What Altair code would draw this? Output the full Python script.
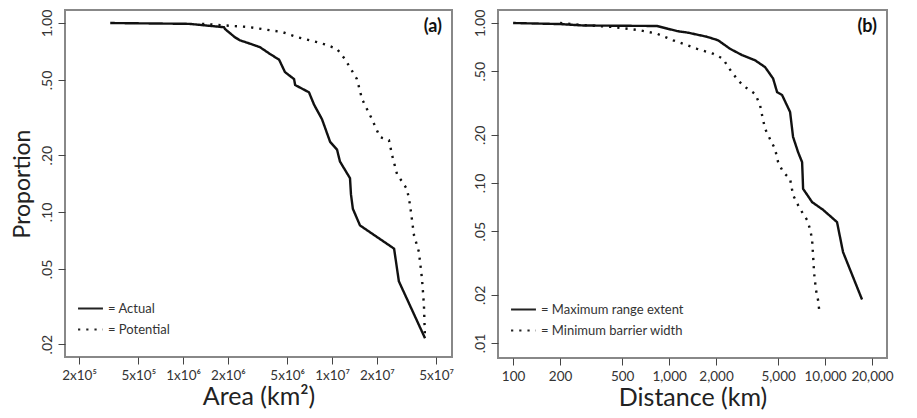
import altair as alt
import pandas as pd

# ---------------- Panel (a): Area ----------------
area_actual_x = [3.24e5, 1.10e6, 1.88e6, 1.91e6, 2.23e6, 2.41e6, 2.99e6, 3.28e6, 3.84e6, 4.41e6,
                 4.83e6, 5.56e6, 5.65e6, 7.0e6, 7.57e6, 8.56e6, 9.71e6, 1.08e7, 1.13e7, 1.32e7,
                 1.34e7, 1.38e7, 1.54e7, 2.61e7, 2.81e7, 4.21e7]
area_actual_y = [1.0, 0.99, 0.95, 0.93, 0.84, 0.81, 0.765, 0.745, 0.685, 0.64,
                 0.55, 0.505, 0.47, 0.43, 0.37, 0.31, 0.235, 0.214, 0.185, 0.151,
                 0.124, 0.104, 0.085, 0.064, 0.043, 0.0215]
area_potential_x = [1.34e6, 2.77e6, 4.62e6, 5.82e6, 7.93e6, 9.25e6, 1.08e7, 1.22e7, 1.47e7, 1.59e7,
                    1.85e7, 2.10e7, 2.41e7, 2.53e7, 2.73e7, 3.19e7, 3.34e7, 3.55e7, 3.83e7, 4.02e7,
                    4.14e7, 4.21e7]
area_potential_y = [0.99, 0.952, 0.896, 0.843, 0.793, 0.765, 0.728, 0.645, 0.505, 0.396,
                    0.311, 0.249, 0.240, 0.200, 0.159, 0.132, 0.109, 0.0754, 0.0616, 0.0442,
                    0.0322, 0.0213]
area_series = ["Actual", "Potential"]
area_ticks = [2e5, 5e5, 1e6, 2e6, 5e6, 1e7, 2e7, 5e7]
area_tick_labels = ["2x10⁵", "5x10⁵", "1x10⁶", "2x10⁶", "5x10⁶", "1x10⁷", "2x10⁷", "5x10⁷"]
area_prop_ticks = [1.0, 0.5, 0.2, 0.1, 0.05, 0.02]
area_prop_labels = ["1.00", ".50", ".20", ".10", ".05", ".02"]

# ---------------- Panel (b): Distance ----------------
dist_max_x = [100, 200, 281, 838, 985, 1125, 1324, 1752, 2061, 2460, 2937, 3557, 4125, 4643,
              4925, 5300, 5966, 6236, 6714, 7125, 7180, 7230, 8255, 9705, 11930, 13040, 17260]
dist_max_y = [1.0, 0.985, 0.965, 0.958, 0.92, 0.89, 0.87, 0.82, 0.78, 0.69, 0.63, 0.585, 0.53, 0.45,
              0.37, 0.355, 0.278, 0.194, 0.156, 0.135, 0.112, 0.092, 0.076, 0.068, 0.057, 0.037, 0.0187]
dist_min_x = [200, 225, 298, 438, 652, 838, 1061, 1511, 1914, 2219, 2389, 2769, 3069, 3557, 3830,
              3947, 4125, 4440, 4780, 5000, 5385, 5966, 6236, 6714, 7125, 7670, 8020, 8255, 8380,
              8500, 8750, 9020, 9155]
dist_min_y = [1.0, 0.99, 0.967, 0.944, 0.90, 0.857, 0.78, 0.69, 0.643, 0.598, 0.531, 0.438, 0.398,
              0.361, 0.307, 0.265, 0.218, 0.188, 0.163, 0.135, 0.117, 0.106, 0.084, 0.0728, 0.0658,
              0.0587, 0.0514, 0.0444, 0.0352, 0.0275, 0.0214, 0.0185, 0.0163]
dist_series = ["Maximum  range extent", "Minimum barrier width"]
dist_ticks = [100, 200, 500, 1000, 2000, 5000, 10000, 20000]
dist_tick_labels = ["100", "200", "500", "1,000", "2,000", "5,000", "10,000", "20,000"]
dist_prop_ticks = [1.0, 0.5, 0.2, 0.1, 0.05, 0.02, 0.01]
dist_prop_labels = ["1.00", ".50", ".20", ".10", ".05", ".02", ".01"]

FONT = "Lato"


def label_expr(values, labels):
    vals = ",".join(repr(float(v)) for v in values)
    labs = ",".join("'" + l + "'" for l in labels)
    return f"[{labs}][indexof([{vals}], datum.value)]"


df_a = pd.concat([
    pd.DataFrame({"x": area_actual_x, "y": area_actual_y, "series": area_series[0], "order": range(len(area_actual_x))}),
    pd.DataFrame({"x": area_potential_x, "y": area_potential_y, "series": area_series[1], "order": range(len(area_potential_x))}),
])
df_b = pd.concat([
    pd.DataFrame({"x": dist_max_x, "y": dist_max_y, "series": dist_series[0], "order": range(len(dist_max_x))}),
    pd.DataFrame({"x": dist_min_x, "y": dist_min_y, "series": dist_series[1], "order": range(len(dist_min_x))}),
])

DASHES = [[1, 0], [2.2, 6]]


def panel(df, series, xdom, ydom, xticks, xlabels, yticks, ylabels, xtitle, ytitle, tag, w, h):
    legend = alt.Legend(
        title=None, orient="none", legendX=12, legendY=h - 62,
        symbolType="stroke", symbolSize=620, symbolStrokeWidth=2, symbolStrokeColor="#222",
        labelFont=FONT, labelFontSize=13, labelColor="#333", labelExpr="'= ' + datum.label",
        rowPadding=-3, labelOffset=4,
    )
    yaxis_kw = dict(values=yticks, labelExpr=label_expr(yticks, ylabels), labelAngle=270,
                    labelAlign="center", labelBaseline="bottom", grid=False, domain=False,
                    tickSize=7, tickColor="#444", labelFont=FONT, labelFontSize=14, labelColor="#333",
                    labelPadding=4)
    if ytitle:
        yaxis_kw.update(title=ytitle, titleFont=FONT, titleFontSize=23,
                        titleFontWeight="normal", titleColor="#222", titlePadding=6)
    else:
        yaxis_kw.update(title=None)
    lines = alt.Chart(df).mark_line(strokeWidth=2.4, clip=True, color="#111").encode(
        x=alt.X("x:Q", scale=alt.Scale(type="log", domain=xdom, nice=False, zero=False),
                axis=alt.Axis(values=xticks, labelExpr=label_expr(xticks, xlabels), grid=False,
                              domain=False, tickSize=7, tickColor="#444", labelFont=FONT,
                              labelFontSize=13.5, labelColor="#333", labelPadding=4,
                              labelOverlap=False,
                              title=xtitle, titleFont=FONT, titleFontSize=25,
                              titleFontWeight="normal", titleColor="#222", titlePadding=3)),
        y=alt.Y("y:Q", scale=alt.Scale(type="log", domain=ydom, nice=False, zero=False),
                axis=alt.Axis(**yaxis_kw)),
        strokeDash=alt.StrokeDash("series:N", scale=alt.Scale(domain=series, range=DASHES), legend=legend),
        detail="series:N",
        order="order:Q",
    )
    tag_text = alt.Chart(pd.DataFrame({"t": [tag]})).mark_text(
        font=FONT, fontSize=18, fontWeight="bold", align="right", baseline="top", color="#111"
    ).encode(text="t:N", x=alt.value(w - 10), y=alt.value(8))
    return alt.layer(lines, tag_text).properties(width=w, height=h)


pa = panel(df_a, area_series, [1.61e5, 6.39e7], [0.0171, 1.172], area_ticks, area_tick_labels,
           area_prop_ticks, area_prop_labels, "Area (km²)", "Proportion", "(a)", 387, 347)
pb = panel(df_b, dist_series, [80, 24950], [0.00806, 1.206], dist_ticks, dist_tick_labels,
           dist_prop_ticks, dist_prop_labels, "Distance (km)", None, "(b)", 389, 348)

chart = alt.hconcat(pa, pb, spacing=16).resolve_scale(
    strokeDash="independent", x="independent", y="independent"
).resolve_legend(strokeDash="independent").configure_view(
    stroke="#888", strokeWidth=2
).properties(padding={"left": 2, "top": 0, "right": 0, "bottom": 0}, background="white")

chart.save("out.html", embed_options={"renderer": "svg", "actions": False})
